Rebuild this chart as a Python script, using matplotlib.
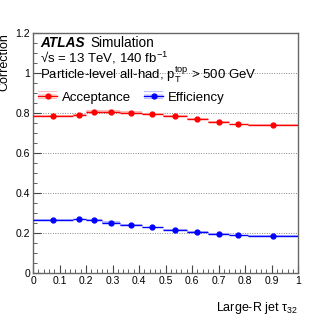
import numpy as np
import matplotlib
matplotlib.use('Agg')
import matplotlib.pyplot as plt
from matplotlib.patches import Patch
from matplotlib.lines import Line2D

plt.rcParams['font.family'] = ['Liberation Sans', 'DejaVu Sans']
plt.rcParams['mathtext.fontset'] = 'custom'
plt.rcParams['mathtext.rm'] = 'Liberation Sans'
plt.rcParams['mathtext.it'] = 'Liberation Sans:italic'
plt.rcParams['hatch.linewidth'] = 0.6

# Bin edges in tau_32 and the two corrections
bin_edges = [0.0, 0.15, 0.2, 0.26, 0.33, 0.41, 0.49, 0.58, 0.66, 0.74, 0.81, 1.0]
acceptance = [0.785, 0.793, 0.808, 0.807, 0.803, 0.794, 0.787, 0.770, 0.757, 0.744, 0.740]
acceptance_unc = [0.004, 0.005, 0.007, 0.007, 0.006, 0.005, 0.005, 0.005, 0.005, 0.004, 0.004]
efficiency = [0.266, 0.269, 0.265, 0.253, 0.243, 0.230, 0.218, 0.207, 0.197, 0.190, 0.187]
efficiency_unc = [0.003, 0.004, 0.004, 0.006, 0.005, 0.003, 0.003, 0.006, 0.004, 0.003, 0.003]
x_ticks = [0, 0.1, 0.2, 0.3, 0.4, 0.5, 0.6, 0.7, 0.8, 0.9, 1.0]
x_ticklabels = ['0', '0.1', '0.2', '0.3', '0.4', '0.5', '0.6', '0.7', '0.8', '0.9', '1']
y_ticks = [0, 0.2, 0.4, 0.6, 0.8, 1.0, 1.2]
y_ticklabels = ['0', '0.2', '0.4', '0.6', '0.8', '1', '1.2']

edges = np.array(bin_edges)
centers = (edges[:-1] + edges[1:]) / 2
widths = np.diff(edges)

fig = plt.figure(figsize=(3.32, 3.22), dpi=100)
ax = fig.add_axes([0.0994, 0.151, 0.7986, 0.7465])

red = '#ff0000'
blue = '#0000ff'
pink = '#ffbcbc'
lightblue = '#bcbcff'

# uncertainty bands
ax.bar(edges[:-1], 2 * np.array(acceptance_unc), width=widths, align='edge',
       bottom=np.array(acceptance) - np.array(acceptance_unc), color=pink, lw=0, zorder=2)
ax.bar(edges[:-1], 2 * np.array(efficiency_unc), width=widths, align='edge',
       bottom=np.array(efficiency) - np.array(efficiency_unc), color=lightblue, lw=0, zorder=2)

ax.errorbar(centers, acceptance, xerr=widths / 2, fmt='o', color=red, ms=3.5,
            elinewidth=1.0, capsize=0, zorder=3)
ax.errorbar(centers, efficiency, xerr=widths / 2, fmt='o', color=blue, ms=3.5,
            elinewidth=1.0, capsize=0, zorder=3)

ax.set_xlim(0, 1)
ax.set_ylim(0, 1.2)

ax.set_xticks(x_ticks)
ax.set_xticklabels(x_ticklabels)
ax.set_xticks(np.arange(0, 1.001, 0.02), minor=True)
ax.set_yticks(y_ticks)
ax.set_yticklabels(y_ticklabels)
ax.set_yticks(np.arange(0, 1.201, 0.05), minor=True)
ax.tick_params(which='both', direction='in', top=False, right=False, labelsize=7.5,
               color='#444444', pad=2)
ax.tick_params(which='major', length=6)
ax.tick_params(which='minor', length=3)

for y in [0.2, 0.4, 0.6, 0.8, 1.0]:
    ax.axhline(y, color='#888888', lw=0.7, ls=(0, (1, 1.5)), zorder=1)

for s in ax.spines.values():
    s.set_color('#666666')
    s.set_linewidth(1.0)

ax.set_xlabel('Large-R jet τ$_{32}$', fontsize=9, loc='right', labelpad=10)
ax.set_ylabel('Correction', fontsize=9, loc='top')
ax.yaxis.set_label_coords(-0.085, 1.0)

ax.text(0.026, 0.942, 'ATLAS', transform=ax.transAxes, fontsize=9.8, fontweight='bold',
        fontstyle='italic', va='baseline')
ax.text(0.218, 0.942, 'Simulation', transform=ax.transAxes, fontsize=9.8, va='baseline')
ax.text(0.026, 0.879, '√s = 13 TeV, 140 fb$^{-1}$', transform=ax.transAxes,
        fontsize=9.5, va='baseline')
ax.text(0.026, 0.805, r'Particle-level all-had, p$_{\mathrm{T}}^{\mathrm{top}}$ > 500 GeV',
        transform=ax.transAxes, fontsize=9.5, va='baseline')

handles = [(Patch(facecolor='white', edgecolor='#ffaaaa', hatch='-----', lw=0),
            Line2D([], [], color=red, marker='o', ms=3.5, lw=1)),
           (Patch(facecolor='white', edgecolor='#aaaaff', hatch='-----', lw=0),
            Line2D([], [], color=blue, marker='o', ms=3.5, lw=1))]
ax.legend(handles, ['Acceptance', 'Efficiency'], ncol=2, frameon=False, fontsize=9.5,
          loc='center left', bbox_to_anchor=(0.02, 0.733), handlelength=1.4,
          handleheight=0.8, handletextpad=0.4, columnspacing=1.0, borderaxespad=0,
          borderpad=0)

fig.savefig('out.png', dpi=100)
